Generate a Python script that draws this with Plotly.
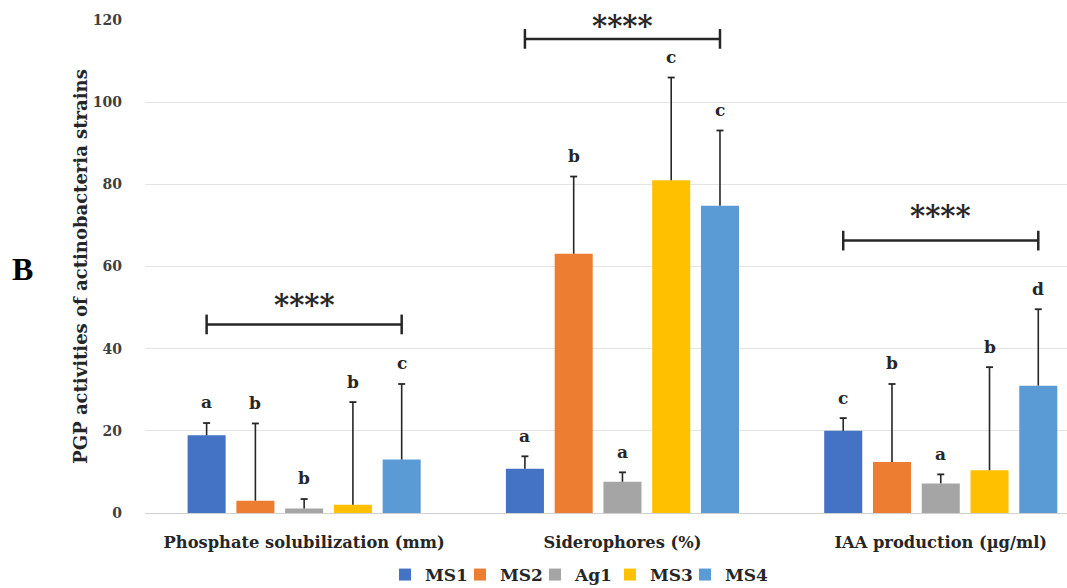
import plotly.graph_objects as go

categories = ["Phosphate solubilization (mm)", "Siderophores (%)", "IAA production (µg/ml)"]
series_names = ["MS1", "MS2", "Ag1", "MS3", "MS4"]
colors = ["#4472C4", "#ED7D31", "#A5A5A5", "#FFC000", "#5B9BD5"]

MS1 = [18.9, 10.8, 20.0]
MS2 = [3.0, 63.1, 12.4]
Ag1 = [1.1, 7.6, 7.2]
MS3 = [2.0, 81.0, 10.4]
MS4 = [13.0, 74.8, 31.0]

MS1_sd = [3.0, 3.0, 3.1]
MS2_sd = [18.8, 18.8, 19.0]
Ag1_sd = [2.3, 2.3, 2.2]
MS3_sd = [25.0, 25.0, 25.1]
MS4_sd = [18.4, 18.3, 18.6]

letters_MS1 = ["a", "a", "c"]
letters_MS2 = ["b", "b", "b"]
letters_Ag1 = ["b", "a", "a"]
letters_MS3 = ["b", "c", "b"]
letters_MS4 = ["c", "c", "d"]

bracket_levels = [45.9, 115.4, 66.3]
star_levels = [51.4, 119.2, 73.0]
bracket_labels = ["****", "****", "****"]

values = [MS1, MS2, Ag1, MS3, MS4]
sds = [MS1_sd, MS2_sd, Ag1_sd, MS3_sd, MS4_sd]
letters = [letters_MS1, letters_MS2, letters_Ag1, letters_MS3, letters_MS4]

FONT = "DejaVu Serif"
YMAX = 120
bargap = 0.234
bargroupgap = 0.22
n = len(series_names)
slot = (1 - bargap) / n

W, H = 1067, 588
ml, mr, mt, mb = 145, 0, 20, 75
PW, PH = W - ml - mr, H - mt - mb

fig = go.Figure()
xs = list(range(len(categories)))
for i, name in enumerate(series_names):
    fig.add_trace(go.Bar(
        x=xs, y=values[i], name=name,
        marker=dict(color=colors[i], line=dict(width=0)),
        error_y=dict(type="data", symmetric=False, array=sds[i],
                     arrayminus=[0] * len(xs), color="#262626",
                     thickness=1.6, width=0),
    ))

# caps on the top end of the error bars only
for i in range(n):
    off = (i - (n - 1) / 2) * slot
    fig.add_trace(go.Scatter(
        x=[j + off for j in xs], y=[values[i][j] + sds[i][j] for j in xs],
        mode="markers", showlegend=False, hoverinfo="skip",
        marker=dict(symbol="line-ew", size=5, line=dict(color="#262626", width=1.8)),
    ))

# empty trailing legend entry so the last label is not clipped
fig.add_trace(go.Scatter(x=[None], y=[None], mode="markers", name=" ", hoverinfo="skip",
                         marker=dict(color="rgba(0,0,0,0)", size=1,
                                     line=dict(width=0, color="rgba(0,0,0,0)"))))

annotations = []
shapes = []
for i in range(n):
    off = (i - (n - 1) / 2) * slot
    for j in xs:
        annotations.append(dict(
            x=j + off, y=(values[i][j] + sds[i][j] + 5.0) / YMAX, xref="x", yref="paper",
            text=letters[i][j], showarrow=False, yanchor="middle",
            font=dict(family=FONT, size=17, color="#262626", weight="bold")))

for j in xs:
    x0 = j - 2 * slot
    x1 = j + 2 * slot
    yb = bracket_levels[j]
    line = dict(color="#262626", width=2.5)
    shapes.append(dict(type="line", xref="x", yref="y", x0=x0, x1=x1, y0=yb, y1=yb, line=line))
    shapes.append(dict(type="line", xref="x", yref="y", x0=x0, x1=x0, y0=yb - 2.4, y1=yb + 2.4, line=line))
    shapes.append(dict(type="line", xref="x", yref="y", x0=x1, x1=x1, y0=yb - 2.4, y1=yb + 2.4, line=line))
    annotations.append(dict(
        x=j, y=star_levels[j] / YMAX, xref="x", yref="paper", text=bracket_labels[j],
        showarrow=False, yanchor="middle", yshift=-3,
        font=dict(family=FONT, size=29, color="#262626", weight="bold")))

annotations.append(dict(
    x=(23 - ml) / PW, y=(H - mb - 269) / PH,
    xref="paper", yref="paper", text="B", showarrow=False,
    xanchor="center", yanchor="middle",
    font=dict(family="Liberation Serif", size=32, color="#000000", weight="bold")))

fig.update_layout(
    width=W, height=H,
    margin=dict(l=ml, r=mr, t=mt, b=mb, autoexpand=False),
    paper_bgcolor="white", plot_bgcolor="white",
    barmode="group", bargap=bargap, bargroupgap=bargroupgap,
    font=dict(family=FONT, color="#262626"),
    xaxis=dict(tickmode="array", tickvals=xs, ticktext=categories,
               range=[-0.5, -0.5 + PW / 318.3], automargin=False,
               showgrid=False, zeroline=False, showline=False, ticks="",
               ticklabelstandoff=18,
               tickfont=dict(family=FONT, size=16.3, color="#262626", weight="bold")),
    yaxis=dict(range=[0, YMAX], dtick=20, showgrid=True, gridcolor="#E4E4E4",
               gridwidth=1.2, zeroline=True, zerolinecolor="#D0D0D0", zerolinewidth=1.2,
               showline=False, ticks="", ticklabelstandoff=22, automargin=False,
               tickfont=dict(family=FONT, size=14, color="#404040", weight="bold"),
               title=dict(text="PGP activities of actinobacteria strains", standoff=0,
                          font=dict(family=FONT, size=18, color="#262626", weight="bold"))),
    legend=dict(orientation="h", x=(385 - ml) / PW, xanchor="left",
                y=-(575 - (H - mb)) / PH, yanchor="middle",
                entrywidth=30, entrywidthmode="pixels",
                font=dict(family=FONT, size=17, color="#262626", weight="bold"),
                itemwidth=30, traceorder="normal", bgcolor="rgba(0,0,0,0)"),
    annotations=annotations, shapes=shapes,
)

fig.write_html("out.html")
